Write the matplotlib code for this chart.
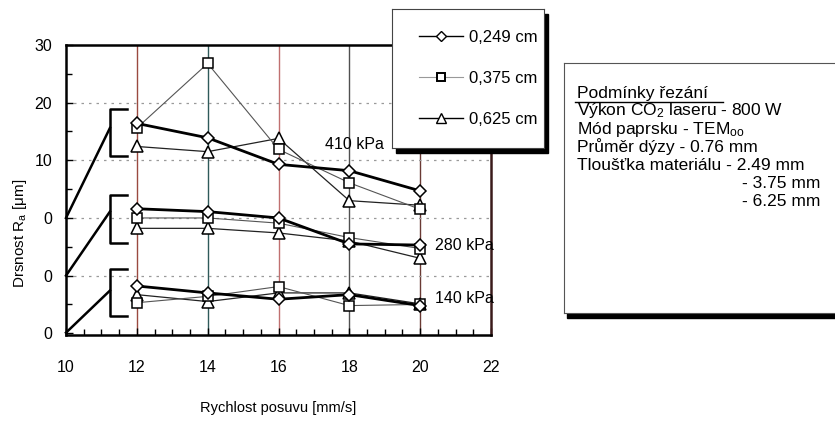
import matplotlib
matplotlib.use("Agg")
import matplotlib.pyplot as plt
import matplotlib.ticker as ticker
from matplotlib.lines import Line2D
from matplotlib.patches import Rectangle

plt.rcParams['font.family'] = ['Liberation Sans', 'DejaVu Sans']
plt.rcParams['mathtext.fontset'] = 'custom'
plt.rcParams['mathtext.rm'] = 'Liberation Sans'
plt.rcParams['mathtext.it'] = 'Liberation Sans:italic'

# feed speed [mm/s]
speed = [12, 14, 16, 18, 20]

# roughness, as plotted (groups stacked with offsets)
ra_249_410 = [16.4, 13.9, 9.3, 8.2, 4.7]
ra_375_410 = [15.6, 26.8, 11.9, 6.1, 1.5]
ra_625_410 = [12.4, 11.5, 13.8, 3.0, 2.2]

ra_249_280 = [1.6, 1.1, 0.0, -4.5, -4.7]
ra_375_280 = [0.0, 0.0, -0.9, -3.4, -5.3]
ra_625_280 = [-1.8, -1.8, -2.6, -4.0, -7.0]

ra_249_140 = [-11.8, -13.0, -14.1, -13.3, -15.2]
ra_375_140 = [-14.7, -13.6, -11.9, -15.2, -15.0]
ra_625_140 = [-13.3, -14.5, -13.0, -13.0, -14.9]

pressures = ["410 kPa", "280 kPa", "140 kPa"]
group_base = [0, -10, -19.9]          # where the group's diagonal starts
bracket_top = [18.9, 4.0, -8.9]
bracket_bottom = [10.8, -4.3, -17.0]
bracket_mid = [15.6, 1.1, -12.6]

yticks = [30, 20, 10, 0, -10, -20]
ytick_labels = ["30", "20", "10", "0", "0", "0"]
xticks = [10, 12, 14, 16, 18, 20, 22]

legend_labels = ["0,249 cm", "0,375 cm", "0,625 cm"]

W, H = 835, 421


def fx(x):
    return x / W


def fy(y):
    return 1 - y / H


fig = plt.figure(figsize=(W / 100, H / 100), dpi=100)
ax = fig.add_axes([fx(66), fy(335), 425 / W, 290 / H])
ax.set_zorder(0)

# vertical grid lines (scan colours)
vcols = ['#9a4a40', '#2f5a5a', '#c07070', '#505050', '#6a3a34']
for xv, c in zip(speed, vcols):
    ax.axvline(xv, color=c, lw=1.0, zorder=1)
for yv in [20, 10, 0, -10]:
    ax.axhline(yv, color='#9a9a9a', lw=0.9, ls=(0, (2, 4)), zorder=1)

groups = [
    (ra_249_410, ra_375_410, ra_625_410),
    (ra_249_280, ra_375_280, ra_625_280),
    (ra_249_140, ra_375_140, ra_625_140),
]
for d, s, t in groups:
    ax.plot(speed, t, color='#222222', lw=0.9, marker='^', ms=8,
            mfc='white', mec='black', mew=1.1, zorder=3)
    ax.plot(speed, s, color='#555555', lw=0.8, marker='s', ms=7,
            mfc='white', mec='black', mew=1.1, zorder=3)
    ax.plot(speed, d, color='black', lw=2.0, marker='D', ms=6,
            mfc='white', mec='black', mew=1.1, zorder=4)

# brackets and lead lines on the left
bx, bx2 = 11.24, 11.72
for base, top, bot, mid in zip(group_base, bracket_top, bracket_bottom, bracket_mid):
    ax.plot([10, bx], [base, mid], color='black', lw=1.8, zorder=2,
            clip_on=False)
    ax.plot([bx2, bx, bx, bx2], [top, top, bot, bot], color='black',
            lw=1.8, zorder=2)

lab_pos = [(17.32, 12.7), (20.42, -4.7), (20.42, -14.0)]
for txt, (lx, ly) in zip(pressures, lab_pos):
    ax.text(lx, ly, txt, fontsize=11.5, va='center', ha='left', zorder=5)

ax.set_xlim(10, 22)
ax.set_ylim(-20.3, 30)
ax.set_xticks(xticks)
ax.set_xticklabels([str(v) for v in xticks])
ax.set_yticks(yticks)
ax.set_yticklabels(ytick_labels)
ax.xaxis.set_minor_locator(ticker.MultipleLocator(0.5))
ax.yaxis.set_minor_locator(ticker.MultipleLocator(5))
ax.tick_params(which='both', direction='in', labelsize=11.5)
ax.tick_params(which='major', length=5, width=1)
ax.tick_params(which='minor', length=4, width=1)
ax.tick_params(axis='x', pad=18)
ax.tick_params(axis='y', pad=10)
for side in ['left', 'bottom', 'top']:
    ax.spines[side].set_linewidth(1.8)
ax.spines['right'].set_linewidth(1.8)
ax.spines['right'].set_color('#3a1a1a')

ax.set_xlabel("Rychlost posuvu [mm/s]", fontsize=10.5, labelpad=19)
ax.set_ylabel(r"Drsnost R$_{\mathrm{a}}$ [μm]", fontsize=11)
ax.yaxis.set_label_coords(-0.088, 0.35)

# legend box with shadow
lx0, ly0, lx1, ly1 = 392, 9, 544, 148
shadow = Rectangle((fx(lx0 + 4), fy(ly1 + 5)), (lx1 - lx0) / W, (ly1 - ly0) / H,
                   transform=fig.transFigure, color='black', zorder=1)
fig.patches.append(shadow)
lax = fig.add_axes([fx(lx0), fy(ly1), (lx1 - lx0) / W, (ly1 - ly0) / H])
lax.set_zorder(2)
lax.set_xticks([])
lax.set_yticks([])
for sp in lax.spines.values():
    sp.set_linewidth(0.8)
    sp.set_color('#444444')
handles = [
    Line2D([], [], color='black', lw=1.0, marker='D', ms=5, mfc='white', mec='black'),
    Line2D([], [], color='#999999', lw=0.8, marker='s', ms=6, mfc='white', mec='black', mew=1.4),
    Line2D([], [], color='black', lw=1.0, marker='^', ms=7, mfc='white', mec='black'),
]
lax.legend(handles, legend_labels, loc='center', bbox_to_anchor=(0.57, 0.5),
           frameon=False, fontsize=12, labelspacing=1.55, handlelength=2.6,
           handletextpad=0.4)

# cutting conditions box
tx0, ty0, tx1, ty1 = 564, 63, 845, 313
tshadow = Rectangle((fx(tx0 + 3), fy(ty1 + 5)), (tx1 - tx0) / W, (ty1 - ty0) / H,
                    transform=fig.transFigure, color='black', zorder=1)
fig.patches.append(tshadow)
tax = fig.add_axes([fx(tx0), fy(ty1), (tx1 - tx0) / W, (ty1 - ty0) / H])
tax.set_zorder(2)
tax.set_xticks([])
tax.set_yticks([])
for sp in tax.spines.values():
    sp.set_linewidth(0.8)
    sp.set_color('#555555')

fs = 12.5
fig.text(fx(577), fy(98), "Podmínky řezání", fontsize=fs, va='baseline', zorder=5)
fig.add_artist(Line2D([fx(575), fx(723)], [fy(102), fy(102)], color='black', lw=1.0, zorder=5))
lines = [
    (115, r"Výkon CO$_2$ laseru - 800 W"),
    (134, r"Mód paprsku - TEM$_{\mathrm{oo}}$"),
    (152, "Průměr dýzy - 0.76 mm"),
    (170, "Tloušťka materiálu - 2.49 mm"),
]
for yy, s in lines:
    fig.text(fx(577), fy(yy), s, fontsize=fs, va='baseline', zorder=5)
for yy, s in [(188, "- 3.75 mm"), (206, "- 6.25 mm")]:
    fig.text(fx(820), fy(yy), s, fontsize=fs, va='baseline', ha='right', zorder=5)

fig.savefig("out.png", dpi=100)
